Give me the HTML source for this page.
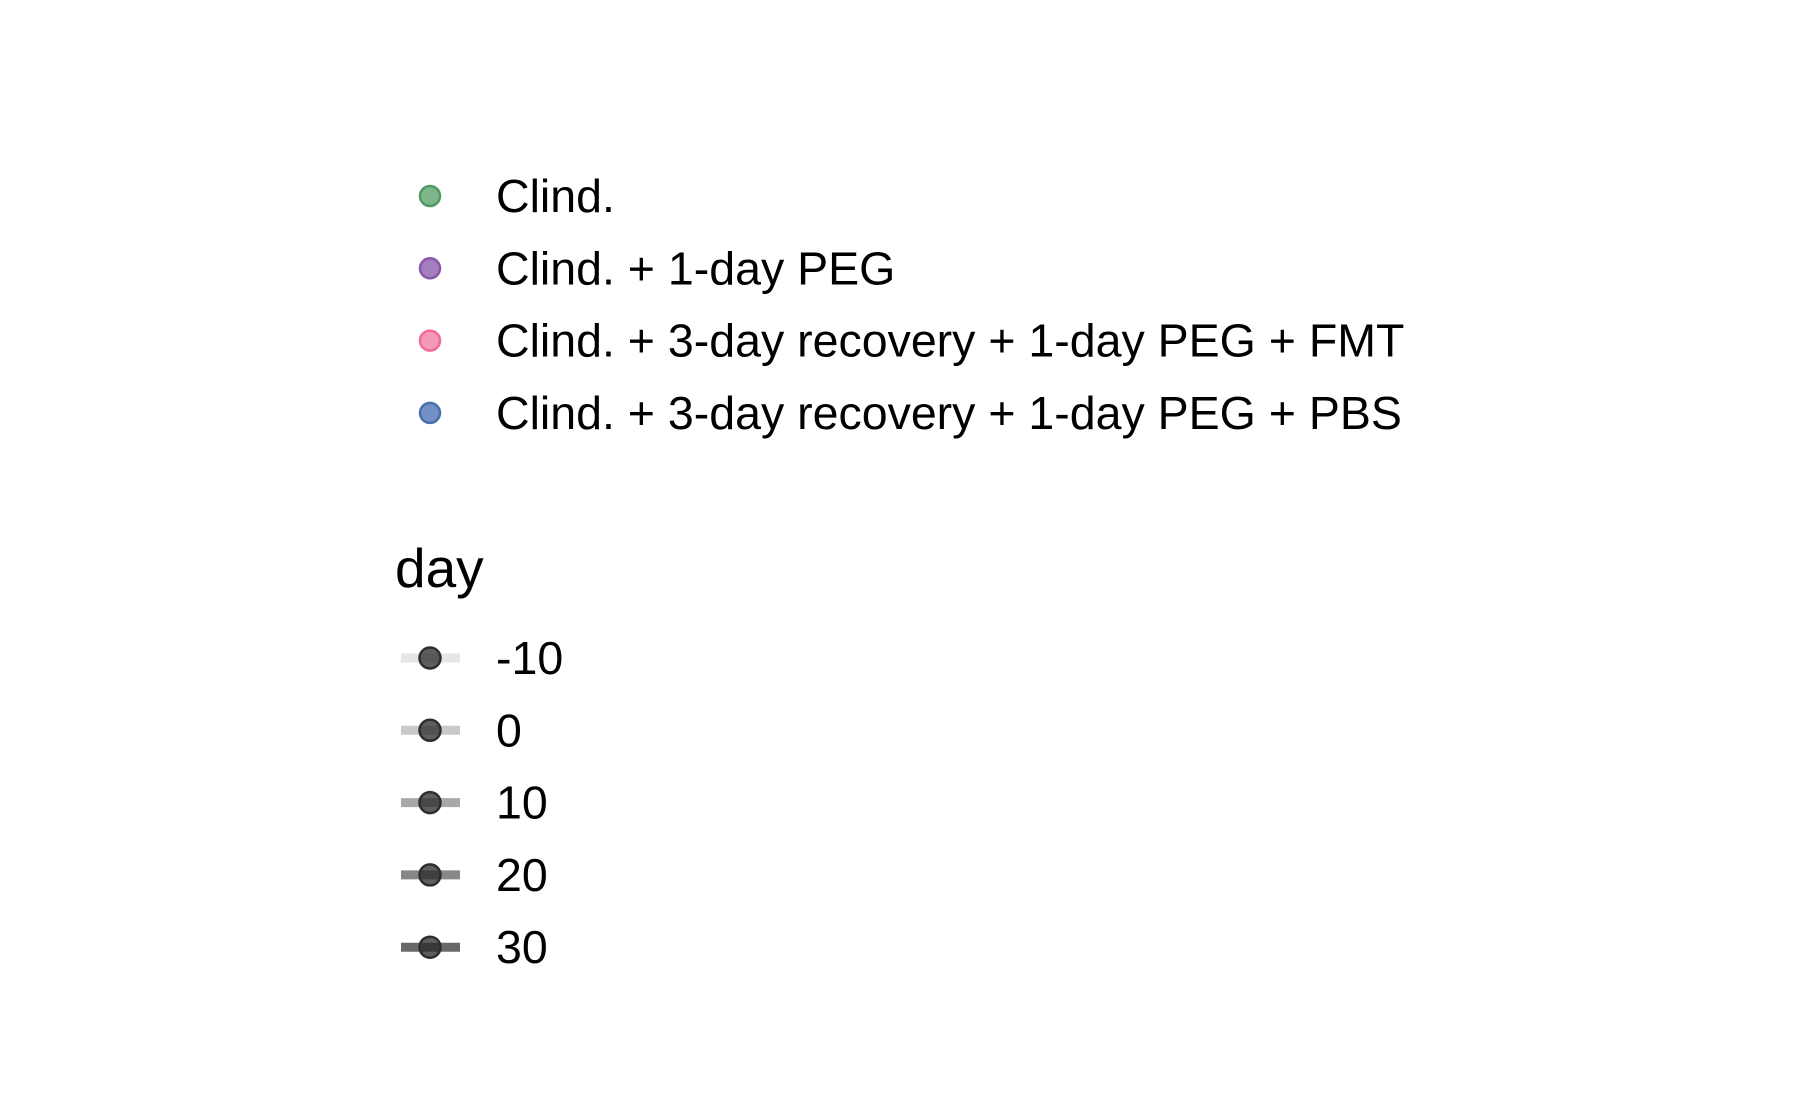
<!DOCTYPE html>
<html><head><meta charset="utf-8"><style>
html,body{margin:0;padding:0;background:#fff;}
svg{display:block;}
text{font-family:"Liberation Sans",sans-serif;fill:#000;}
</style></head><body>
<svg id="chart" width="1800" height="1113" viewBox="0 0 1800 1113"></svg>
<script>
const groupLabels = ["Clind.", "Clind. + 1-day PEG", "Clind. + 3-day recovery + 1-day PEG + FMT", "Clind. + 3-day recovery + 1-day PEG + PBS"];
const groupFills = ["#7fb58a", "#a57fbd", "#f598ba", "#7290c4"];
const groupStrokes = ["#4f9a62", "#8a57a8", "#f06a9c", "#4a6faf"];
const dayLabels = ["-10", "0", "10", "20", "30"];
const dayLineColors = ["#e6e6e6", "#c9c9c9", "#a8a8a8", "#878787", "#686868"];
const svg = document.getElementById('chart');
const NS = 'http://www.w3.org/2000/svg';
function mk(tag, attrs){const e=document.createElementNS(NS,tag);for(const k in attrs)e.setAttribute(k,attrs[k]);svg.appendChild(e);return e;}
groupLabels.forEach((lab,i)=>{
  const y = 196 + i*72.3;
  const c = mk('circle',{cx:430,cy:y,r:10,fill:groupFills[i],stroke:groupStrokes[i],'stroke-width':2.5});
  
  
  const t = mk('text',{x:496,y:y+16,'font-size':46.5});
  t.textContent = lab;
  
  
});
const title = mk('text',{x:395,y:587,'font-size':55});
title.textContent = 'day';


dayLabels.forEach((lab,i)=>{
  const y = 658 + i*72.3;
  const l = mk('line',{x1:401,x2:460,y1:y,y2:y,stroke:dayLineColors[i],'stroke-width':9});
  
  
  const c = mk('circle',{cx:430,cy:y,r:10.5,fill:'rgba(40,40,40,0.75)',stroke:'#2e2e2e','stroke-width':2.5});
  
  
  const t = mk('text',{x:496,y:y+16,'font-size':46.5});
  t.textContent = lab;
  
  
});
</script>
</body></html>
